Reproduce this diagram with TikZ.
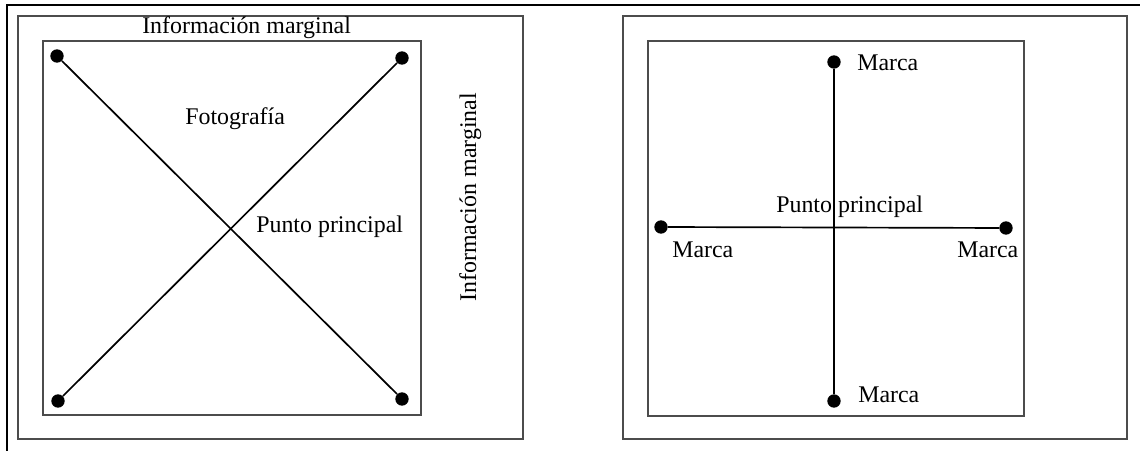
\documentclass[tikz,border=0pt]{standalone}
\usepackage{fontspec}
\setmainfont{Liberation Serif}
\begin{document}
\begin{tikzpicture}[x=0.025cm,y=-0.025cm,
  dot/.style={circle,fill=black,inner sep=0pt,minimum size=9.5pt},
  lbl/.style={font=\fontsize{17}{20}\selectfont,inner sep=0pt,anchor=base west},
  box/.style={draw=black!70,line width=0.9pt},
  conn/.style={line width=1.2pt}]
\useasboundingbox (0,0) rectangle (1140,451);
% page frame
\draw[line width=1.8pt] (7,451) -- (7,5) -- (1140,5);
% ---------- left panel ----------
\draw[box] (18,16) rectangle (523,439);
\draw[box] (43,41) rectangle (421,415);
\node[dot] (tl) at (57,56) {};
\node[dot] (tr) at (402,58) {};
\node[dot] (bl) at (58,401) {};
\node[dot] (br) at (402,399) {};
\draw[conn] (tl) -- (br);
\draw[conn] (tr) -- (bl);
\node[lbl] (im1) at (142,34) {Información marginal};
\node[lbl] (foto) at (185,125) {Fotografía};
\node[lbl] (pp1) at (256,233) {Punto principal};
\node[lbl,rotate=90] (im2) at (476,302) {Información marginal};
% ---------- right panel ----------
\draw[box] (623,16) rectangle (1127,439);
\draw[box] (648,41) rectangle (1024,416);
\node[dot] (mt) at (834,62) {};
\node[dot] (mb) at (834,401) {};
\node[dot] (ml) at (661,227) {};
\node[dot] (mr) at (1006,228) {};
\draw[conn] (mt) -- (mb);
\draw[conn] (ml) -- (mr);
\node[lbl] (lt) at (857,71) {Marca};
\node[lbl] (lb) at (858,403) {Marca};
\node[lbl] (ll) at (672,258) {Marca};
\node[lbl] (lr) at (957,258) {Marca};
\node[lbl] (pp2) at (776,213) {Punto principal};
\end{tikzpicture}
\end{document}
